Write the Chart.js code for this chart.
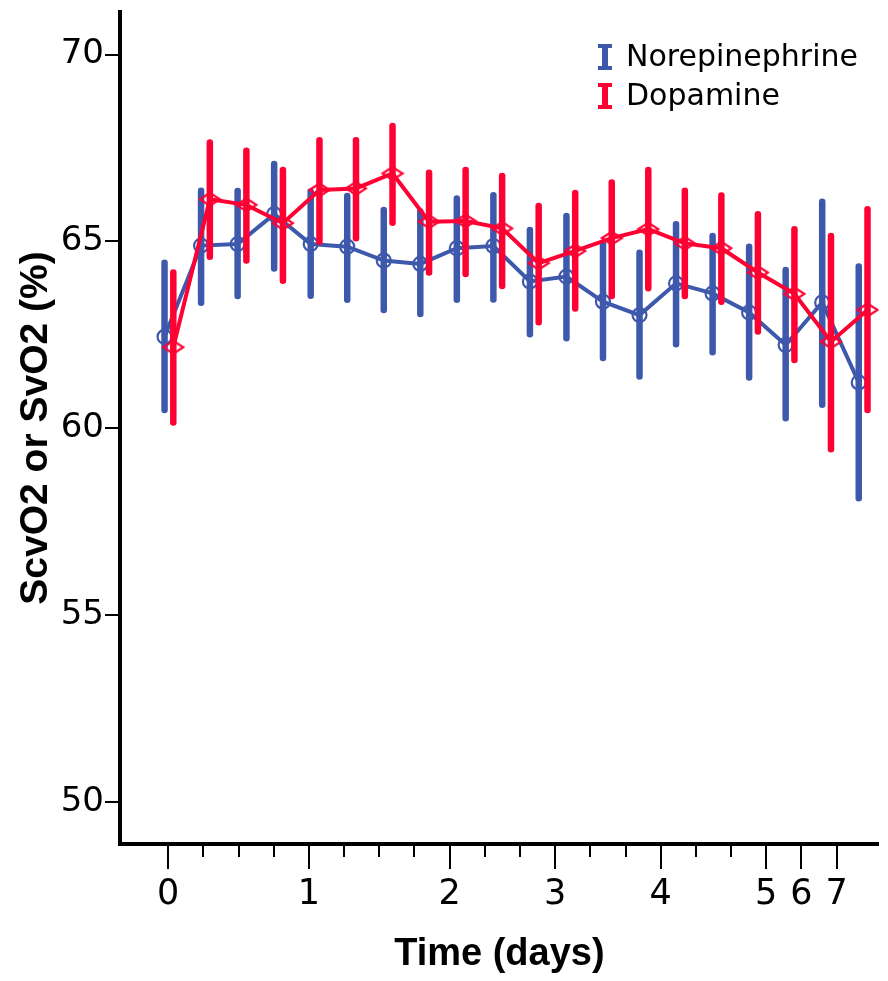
<!DOCTYPE html>
<html>
<head>
<meta charset="utf-8">
<script src="https://cdn.jsdelivr.net/npm/chart.js@4.4.1/dist/chart.umd.min.js"></script>
<style>
  body { margin: 0; background: #fff; }
  canvas { display: block; }
</style>
</head>
<body>
<canvas id="chart" width="888" height="981"></canvas>
<script>
// time points (hours after start), tick labels shown in days
const timeHours = [0, 6, 12, 18, 24, 30, 36, 42, 48, 56, 64, 72, 80, 88, 96, 104, 112, 120, 144, 168];
const tickLabels = ['0', '', '', '', '1', '', '', '', '2', '', '', '3', '', '', '4', '', '', '5', '6', '7'];
const yTicks = [50, 55, 60, 65, 70];

// Norepinephrine: mean and 95% CI
const norepiMean = [62.45, 64.89, 64.93, 65.73, 64.93, 64.86, 64.49, 64.40, 64.82, 64.88, 63.93, 64.06, 63.39, 63.03, 63.88, 63.61, 63.10, 62.23, 63.37, 61.23];
const norepiLow  = [60.49, 63.36, 63.54, 64.28, 63.55, 63.44, 63.17, 63.06, 63.44, 63.45, 62.52, 62.41, 61.88, 61.39, 62.25, 62.04, 61.36, 60.27, 60.63, 58.13];
const norepiHigh = [64.43, 66.36, 66.35, 67.07, 66.33, 66.22, 65.84, 65.80, 66.15, 66.24, 65.31, 65.68, 64.93, 64.70, 65.46, 65.15, 64.86, 64.24, 66.06, 64.33];

// Dopamine: mean and 95% CI
const dopaMean = [62.17, 66.13, 65.98, 65.49, 66.38, 66.42, 66.82, 65.53, 65.55, 65.35, 64.42, 64.75, 65.09, 65.33, 64.95, 64.82, 64.17, 63.60, 62.32, 63.17];
const dopaLow  = [60.16, 64.59, 64.49, 63.95, 64.99, 65.09, 65.50, 64.17, 64.13, 63.81, 62.84, 63.21, 63.54, 63.75, 63.54, 63.39, 62.59, 61.83, 59.44, 60.49];
const dopaHigh = [64.17, 67.65, 67.43, 66.91, 67.71, 67.71, 68.09, 66.84, 66.91, 66.75, 65.95, 66.30, 66.58, 66.91, 66.36, 66.23, 65.73, 65.33, 65.15, 65.86];

const BLUE = '#3E58AC';
const RED = '#FF0033';
const dodge = 0.12;

const errors = {
  norepi: [norepiLow, norepiHigh],
  dopa: [dopaLow, dopaHigh]
};

// flat open diamond used by SPSS for the dopamine markers
function diamond() {
  const c = document.createElement('canvas');
  c.width = 24; c.height = 18;
  const g = c.getContext('2d');
  g.strokeStyle = RED;
  g.lineWidth = 2.2;
  g.beginPath();
  g.moveTo(2, 9); g.lineTo(12, 2.5); g.lineTo(22, 9); g.lineTo(12, 15.5);
  g.closePath();
  g.stroke();
  return c;
}

const errorBars = {
  id: 'errorBars',
  beforeDatasetDraw(chart, args) {
    const ds = chart.data.datasets[args.index];
    const [low, high] = errors[ds.key];
    const y = chart.scales.y;
    const ctx = chart.ctx;
    ctx.save();
    ctx.strokeStyle = ds.borderColor;
    ctx.lineWidth = 6.5;
    ctx.lineCap = 'round';
    args.meta.data.forEach((pt, i) => {
      ctx.beginPath();
      ctx.moveTo(pt.x, y.getPixelForValue(high[i]));
      ctx.lineTo(pt.x, y.getPixelForValue(low[i]));
      ctx.stroke();
    });
    ctx.restore();
  }
};

// major / minor tick marks on the time axis
const timeTicks = {
  id: 'timeTicks',
  afterDraw(chart) {
    const x = chart.scales.x;
    const ctx = chart.ctx;
    const base = chart.chartArea.bottom + 1;
    ctx.save();
    ctx.strokeStyle = '#000';
    ctx.lineWidth = 2;
    tickLabels.forEach((lab, i) => {
      const px = Math.round(x.getPixelForValue(i));
      ctx.beginPath();
      ctx.moveTo(px, base);
      ctx.lineTo(px, base + (lab !== '' ? 24 : 12));
      ctx.stroke();
    });
    ctx.restore();
  }
};

const legendBox = {
  id: 'legendBox',
  afterDraw(chart) {
    const ctx = chart.ctx;
    const items = [['Norepinephrine', BLUE, 57], ['Dopamine', RED, 96]];
    ctx.save();
    items.forEach(([label, color, cy]) => {
      ctx.fillStyle = color;
      ctx.fillRect(602, cy - 11, 6, 22);
      ctx.fillRect(598, cy - 13, 14, 4);
      ctx.fillRect(598, cy + 9, 14, 4);
      ctx.fillStyle = '#000';
      ctx.font = '30px "DejaVu Sans"';
      ctx.textBaseline = 'middle';
      ctx.fillText(label, 626, cy + 1);
    });
    ctx.restore();
  }
};

new Chart(document.getElementById('chart'), {
  type: 'line',
  data: {
    datasets: [
      {
        key: 'norepi',
        label: 'Norepinephrine',
        data: norepiMean.map((v, i) => ({ x: i - dodge, y: v })),
        xAxisID: 'xp',
        borderColor: BLUE,
        borderWidth: 4,
        pointStyle: 'circle',
        pointRadius: 7,
        pointBorderWidth: 2.2,
        pointBorderColor: BLUE,
        pointBackgroundColor: 'rgba(0,0,0,0)',
        order: 2
      },
      {
        key: 'dopa',
        label: 'Dopamine',
        data: dopaMean.map((v, i) => ({ x: i + dodge, y: v })),
        xAxisID: 'xp',
        borderColor: RED,
        borderWidth: 4,
        pointStyle: diamond(),
        order: 1
      }
    ]
  },
  options: {
    responsive: false,
    animation: false,
    events: [],
    layout: { padding: { top: 12, right: 8, left: 0, bottom: 0 } },
    plugins: {
      legend: { display: false },
      tooltip: { enabled: false }
    },
    scales: {
      xp: {
        type: 'linear',
        display: false,
        min: -1.339,
        max: 19.429
      },
      x: {
        type: 'linear',
        position: 'bottom',
        min: -1.371,
        max: 20.2,
        afterBuildTicks: (s) => { s.ticks = tickLabels.map((_, i) => ({ value: i })); },
        afterFit: (s) => { s.height = 137; s.paddingLeft = 0; s.paddingRight = 0; },
        grid: { drawOnChartArea: false, drawTicks: false },
        border: { color: '#000', width: 4 },
        ticks: {
          autoSkip: false,
          maxRotation: 0,
          padding: 30,
          color: '#000',
          font: { family: 'DejaVu Sans', size: 35 },
          callback: (v) => tickLabels[v]
        },
        title: {
          display: true,
          text: 'Time (days)',
          color: '#000',
          font: { family: 'Liberation Sans', size: 38, weight: 'bold' },
          padding: { top: 0, bottom: 4 }
        }
      },
      y: {
        min: 48.88,
        max: 71.14,
        afterBuildTicks: (s) => { s.ticks = yTicks.map(v => ({ value: v })); },
        afterFit: (s) => { s.width = 120; s.paddingTop = 0; s.paddingBottom = 0; },
        grid: { drawOnChartArea: false, drawTicks: true, tickLength: 15, color: '#000', lineWidth: 2 },
        border: { color: '#000', width: 4 },
        ticks: {
          padding: 1,
          color: '#000',
          font: { family: 'DejaVu Sans', size: 34 }
        },
        title: {
          display: true,
          text: 'ScvO2 or SvO2 (%)',
          color: '#000',
          font: { family: 'Liberation Sans', size: 39, weight: 'bold' },
          padding: { top: 13, bottom: 0 }
        }
      }
    }
  },
  plugins: [errorBars, timeTicks, legendBox]
});
</script>
</body>
</html>
